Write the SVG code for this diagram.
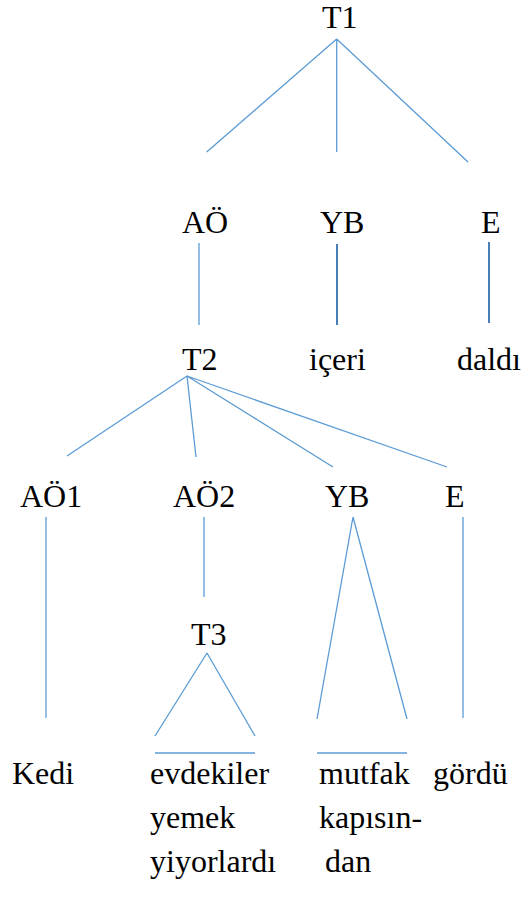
<svg xmlns="http://www.w3.org/2000/svg" width="529" height="907" viewBox="0 0 529 907">
  <style>
    text { font-family: 'Liberation Serif', 'DejaVu Serif', serif; font-size: 32px; fill: #000; }
    .edge { stroke: #5B9BD5; stroke-width: 1.3; fill: none; }
    .edge.bold { stroke: #4A7EBB; stroke-width: 2; }
  </style>
  <rect width="529" height="907" fill="#fff"/>

  <!-- tree branches -->
  <g id="connectors">
    <!-- T1 -->
    <path class="edge" d="M336.7,39 L206.7,152 M336.7,39 L336.7,152 M336.7,39 L468,162"/>
    <!-- level 2 verticals -->
    <path class="edge" d="M199,243 L199,325"/>
    <path class="edge bold" d="M337,244 L337,325"/>
    <path class="edge bold" d="M489,242 L489,323"/>
    <!-- T2 -->
    <path class="edge" d="M187,376 L67,456 M187,376 L196,457 M187,376 L333,467 M187,376 L447,467"/>
    <!-- level 4 -->
    <path class="edge" d="M46,517 L46,718"/>
    <path class="edge" d="M204,517 L204,597"/>
    <path class="edge" d="M353,517 L317,719 M353,517 L407,719"/>
    <path class="edge" d="M463,517 L463,718"/>
    <!-- T3 -->
    <path class="edge" d="M207,653 L155,736 M207,653 L255,736"/>
    <!-- bars above multi-word leaves -->
    <path class="edge" d="M155,753 L255,753"/>
    <path class="edge" d="M317,753 L407,753"/>
  </g>

  <g id="n-t1"><text x="322" y="28">T1</text></g>
  <g id="n-ao"><text x="182" y="233">AÖ</text></g>
  <g id="n-yb"><text x="320" y="233">YB</text></g>
  <g id="n-e"><text x="481" y="233">E</text></g>
  <g id="n-t2"><text x="182" y="370">T2</text></g>
  <g id="n-iceri"><text x="309" y="370">içeri</text></g>
  <g id="n-daldi"><text x="457" y="370">daldı</text></g>
  <g id="n-ao1"><text x="20" y="507">AÖ1</text></g>
  <g id="n-ao2"><text x="173" y="507">AÖ2</text></g>
  <g id="n-yb2"><text x="325" y="507">YB</text></g>
  <g id="n-e2"><text x="445" y="507">E</text></g>
  <g id="n-t3"><text x="191" y="645">T3</text></g>
  <g id="n-kedi"><text x="12" y="784">Kedi</text></g>
  <g id="n-evdekiler">
    <text x="150" y="784">evdekiler</text>
    <text x="150" y="828">yemek</text>
    <text x="150" y="872">yiyorlardı</text>
  </g>
  <g id="n-mutfak">
    <text x="319" y="784">mutfak</text>
    <text x="319" y="828">kapısın-</text>
    <text x="325" y="872">dan</text>
  </g>
  <g id="n-gordu"><text x="433" y="784">gördü</text></g>
</svg>
